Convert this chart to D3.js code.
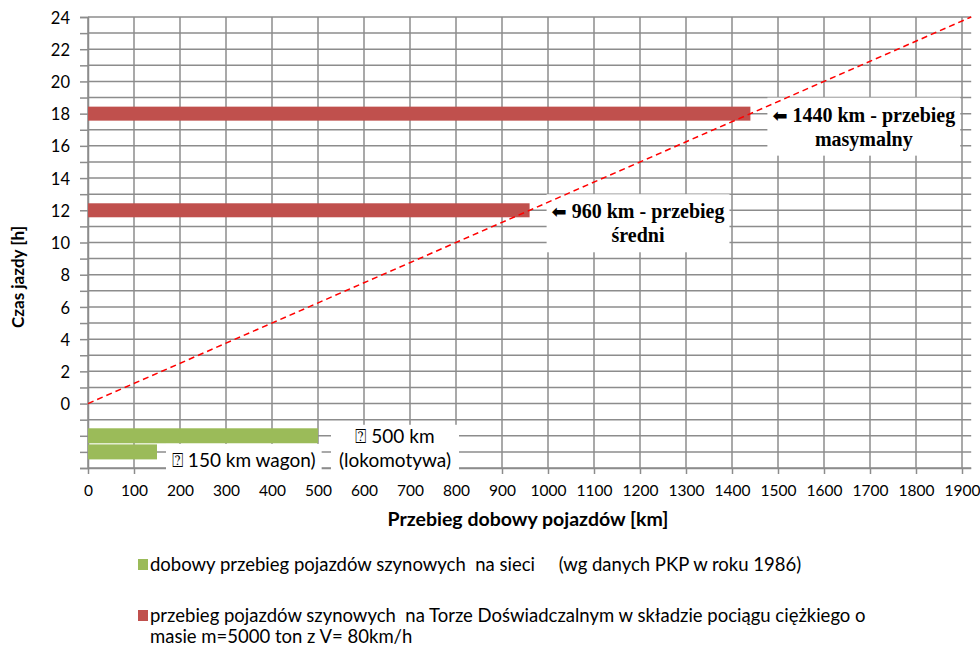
<!DOCTYPE html>
<html>
<head>
<meta charset="utf-8">
<script src="https://cdn.jsdelivr.net/npm/d3@7"></script>
<style>
  html, body { margin: 0; padding: 0; background: #fff; }
  svg { display: block; }
  text { white-space: pre; }
</style>
</head>
<body>
<svg id="chart" width="980" height="646"></svg>
<script>
// Daily run of rail vehicles vs. driving time
const hourTicks = d3.range(-4, 25, 1);          // gridlines every hour
const hourLabels = d3.range(0, 25, 2);          // labelled hours
const kmTicks = d3.range(0, 1901, 100);         // km ticks

// Test-track runs (heavy train, m = 5000 t, V = 80 km/h)
const trackKm = [1440, 960];
const trackHours = [18, 12];
const trackLabel1 = ["1440 km - przebieg", "960 km - przebieg"];
const trackLabel2 = ["masymalny", "średni"];

// Network daily runs (PKP data, 1986), drawn below the time axis
const netKm = [500, 150];
const netRow = [-2, -3];
const netLabel1 = ["\u2370 500 km", "\u2370 150 km wagon)"];
const netLabel2 = ["(lokomotywa)", ""];

// Constant-speed line, 80 km/h
const speedKm = [0, 1920];
const speedHours = [0, 24];

const legendItems = [
  { color: "#9BBB59", lines: ["dobowy przebieg pojazdów szynowych  na sieci     (wg danych PKP w roku 1986)"] },
  { color: "#C0504D", lines: ["przebieg pojazdów szynowych  na Torze Doświadczalnym w składzie pociągu ciężkiego o", "masie m=5000 ton z V= 80km/h"] }
];

const svg = d3.select("#chart");
const plotL = 88, plotR = 971.2, plotT = 17, plotB = 468;

const x = d3.scaleLinear().domain([0, 1920]).range([plotL, plotR]);
const y = d3.scaleLinear().domain([-4, 24]).range([plotB, plotT]);

const gridColor = "#8c8c8c";
const sans = "Lato, 'Open Sans', sans-serif";
const serif = "'Liberation Serif', 'Times New Roman', serif";

// grid
const grid = svg.append("g");
grid.selectAll("line.h").data(hourTicks).join("line")
  .attr("x1", plotL).attr("x2", plotR)
  .attr("y1", d => y(d)).attr("y2", d => y(d))
  .attr("stroke", gridColor).attr("stroke-width", 1.5);
grid.selectAll("line.v").data(kmTicks).join("line")
  .attr("x1", d => x(d)).attr("x2", d => x(d))
  .attr("y1", plotT).attr("y2", plotB)
  .attr("stroke", gridColor).attr("stroke-width", 1.5);

// axes
const yAxis = svg.append("g").attr("transform", `translate(${plotL},0)`)
  .call(d3.axisLeft(y).tickValues(hourTicks).tickSize(8).tickPadding(10)
    .tickFormat(d => hourLabels.includes(d) ? d : ""));
const xAxis = svg.append("g").attr("transform", `translate(0,${plotB})`)
  .call(d3.axisBottom(x).tickValues(kmTicks).tickSize(6).tickPadding(11).tickFormat(d3.format("d")));
[yAxis, xAxis].forEach(a => {
  a.select(".domain").attr("stroke", gridColor).attr("stroke-width", 1.5);
  a.selectAll(".tick line").attr("stroke", gridColor).attr("stroke-width", 1.5);
  a.selectAll(".tick text").attr("fill", "#000").style("font-family", sans);
});
yAxis.selectAll(".tick text").style("font-size", "16.5px").attr("dy", "0.37em");
xAxis.selectAll(".tick text").style("font-size", "15.5px");
xAxis.select(".domain").attr("d", `M${plotL},0.5H${plotR}`);

// axis titles
svg.append("text")
  .attr("x", 528).attr("y", 526).attr("text-anchor", "middle")
  .style("font-family", sans).style("font-size", "19.5px").style("font-weight", "bold")
  .text("Przebieg dobowy pojazdów [km]");
svg.append("text")
  .attr("transform", "translate(24,277) rotate(-90)").attr("text-anchor", "middle")
  .style("font-family", sans).style("font-size", "17px").style("font-weight", "bold")
  .text("Czas jazdy [h]");

const barH = 14;

// bars
svg.append("g").selectAll("rect").data(trackKm).join("rect")
  .attr("x", x(0)).attr("width", d => x(d) - x(0))
  .attr("y", (d, i) => y(trackHours[i]) - barH / 2).attr("height", barH)
  .attr("fill", "#C0504D");
svg.append("g").selectAll("rect").data(netKm).join("rect")
  .attr("x", x(0)).attr("width", d => x(d) - x(0))
  .attr("y", (d, i) => y(netRow[i]) - barH / 2 - 0.5).attr("height", barH + 1)
  .attr("fill", "#9BBB59");

// test-track labels with white boxes
trackKm.forEach((km, i) => {
  const g = svg.append("g");
  const yc = y(trackHours[i]);
  const x0 = x(km) + 22;
  const b1 = yc + 8, b2 = b1 + 24;
  const box = g.append("rect").attr("fill", "#fff");
  const t1 = g.append("text").attr("x", x0).attr("y", b1)
    .style("font-family", serif).style("font-size", "20px").style("font-weight", "bold");
  t1.append("tspan").style("font-family", "'DejaVu Sans'").style("font-size", "18px").text("\u2B05");
  t1.append("tspan").text(" " + trackLabel1[i]);
  const w = t1.node().getComputedTextLength();
  g.append("text").attr("x", x0 + w / 2).attr("y", b2).attr("text-anchor", "middle")
    .style("font-family", serif).style("font-size", "20px").style("font-weight", "bold")
    .text(trackLabel2[i]);
  box.attr("x", x0 - 5).attr("width", w + 10).attr("y", b1 - 24).attr("height", b2 - b1 + 34);
});

// network labels with white boxes
const netFont = "19px";
netKm.forEach((km, i) => {
  const g = svg.append("g");
  const yc = y(netRow[i]);
  const box = g.append("rect").attr("fill", "#fff");
  if (netLabel2[i]) {
    const cx = x(km) + 77;
    const b1 = yc + 7, b2 = b1 + 24;
    const t1 = g.append("text").attr("x", cx).attr("y", b1).attr("text-anchor", "middle")
      .style("font-family", sans).style("font-size", netFont).text(netLabel1[i]);
    const t2 = g.append("text").attr("x", cx).attr("y", b2).attr("text-anchor", "middle")
      .style("font-family", sans).style("font-size", netFont).text(netLabel2[i]);
    const w = Math.max(t1.node().getComputedTextLength(), t2.node().getComputedTextLength());
    box.attr("x", cx - w / 2 - 8).attr("width", w + 16).attr("y", b1 - 18).attr("height", b2 - b1 + 26);
  } else {
    const x0 = x(km) + 15;
    const b1 = yc + 15;
    const t1 = g.append("text").attr("x", x0).attr("y", b1)
      .style("font-family", sans).style("font-size", netFont).text(netLabel1[i]);
    const w = t1.node().getComputedTextLength();
    box.attr("x", x0 - 6).attr("width", w + 12).attr("y", b1 - 23).attr("height", 31);
  }
});

// 80 km/h line
svg.append("path")
  .datum(speedKm.map((k, i) => [k, speedHours[i]]))
  .attr("d", d3.line().x(d => x(d[0])).y(d => y(d[1])))
  .attr("fill", "none").attr("stroke", "#FF0000").attr("stroke-width", 1.5)
  .attr("stroke-dasharray", "6,4");

// legend
const legend = svg.append("g").attr("transform", "translate(138,0)");
const legendBase = [571, 622];
legendItems.forEach((item, i) => {
  const base = legendBase[i];
  legend.append("rect").attr("x", 0).attr("y", base - 12).attr("width", 10).attr("height", 11)
    .attr("fill", item.color);
  item.lines.forEach((line, j) => {
    legend.append("text").attr("x", 12).attr("y", base + j * 21)
      .style("font-family", sans).style("font-size", "18.5px").attr("fill", "#000")
      .text(line);
  });
});
</script>
</body>
</html>
